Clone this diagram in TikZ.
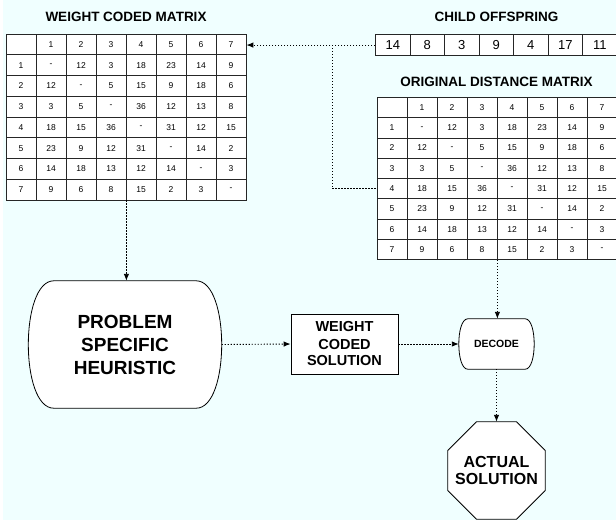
\documentclass[tikz,border=0pt]{standalone}
\usepackage{fontspec}
\setmainfont{Liberation Sans}
\usetikzlibrary{matrix,arrows.meta,shapes.geometric}
\definecolor{bgcyan}{RGB}{240,255,255}
\newcommand{\myfs}[2]{\fontsize{#1}{#2}\selectfont}
\pgfdeclarelayer{back}
\pgfdeclarelayer{shapes}
\pgfsetlayers{back,shapes,main}
\begin{document}
\begin{tikzpicture}[x=1pt,y=-1pt,
  grid/.style={matrix of nodes, nodes in empty cells, column sep=-0.7pt, row sep=-0.7pt,
    inner sep=0pt, nodes={draw=black!85, fill=white, line width=0.7pt, anchor=center, inner sep=0pt}},
  dmat/.style={grid, nodes={minimum width=30pt, minimum height=20.75pt, font=\myfs{8.5}{10}}},
  crow/.style={grid, nodes={minimum width=34.5pt, minimum height=21pt, font=\myfs{13}{15}}},
  title/.style={font=\bfseries\myfs{13.5}{16}, inner sep=0pt},
  conn/.style={line width=0.9pt, dash pattern=on 1.1pt off 1.9pt, black},
  arr/.style={conn, -{Latex[length=7pt,width=5.5pt]}},
  outl/.style={draw=black, fill=white, line width=0.8pt}
]
\useasboundingbox (0,0) rectangle (616,523);
\begin{pgfonlayer}{back}
  \fill[bgcyan] (3,0) rectangle (616,520);
\end{pgfonlayer}

% titles
\node[title] (t1) at (126,16.7) {WEIGHT CODED MATRIX};
\node[title] (t2) at (496.5,16.7) {CHILD OFFSPRING};
\node[title] (t3) at (496.5,82) {ORIGINAL DISTANCE MATRIX};

% weight coded matrix
\matrix (wcm) [dmat, anchor=north west] at (5.5,33.5) {
   & 1 & 2 & 3 & 4 & 5 & 6 & 7 \\
 1 & - & 12 & 3 & 18 & 23 & 14 & 9 \\
 2 & 12 & - & 5 & 15 & 9 & 18 & 6 \\
 3 & 3 & 5 & - & 36 & 12 & 13 & 8 \\
 4 & 18 & 15 & 36 & - & 31 & 12 & 15 \\
 5 & 23 & 9 & 12 & 31 & - & 14 & 2 \\
 6 & 14 & 18 & 13 & 12 & 14 & - & 3 \\
 7 & 9 & 6 & 8 & 15 & 2 & 3 & - \\
};

% original distance matrix
\matrix (odm) [dmat, nodes={minimum height=20.3pt}, anchor=north west] at (376.5,96.7) {
   & 1 & 2 & 3 & 4 & 5 & 6 & 7 \\
 1 & - & 12 & 3 & 18 & 23 & 14 & 9 \\
 2 & 12 & - & 5 & 15 & 9 & 18 & 6 \\
 3 & 3 & 5 & - & 36 & 12 & 13 & 8 \\
 4 & 18 & 15 & 36 & - & 31 & 12 & 15 \\
 5 & 23 & 9 & 12 & 31 & - & 14 & 2 \\
 6 & 14 & 18 & 13 & 12 & 14 & - & 3 \\
 7 & 9 & 6 & 8 & 15 & 2 & 3 & - \\
};

% child offspring
\matrix (co) [crow, anchor=north west] at (375,34) {
 14 & 8 & 3 & 9 & 4 & 17 & 11 \\
};

% heuristic
\node[font=\bfseries\myfs{19}{23}, align=center, minimum width=193pt, minimum height=127pt, inner sep=0pt]
  (heur) at (125,344.5) {PROBLEM\\SPECIFIC\\HEURISTIC};
% weight coded solution
\node[outl, minimum width=107pt, minimum height=60pt, inner sep=0pt, align=center,
  font=\bfseries\myfs{14.5}{17}] (wcs) at (344.5,344) {WEIGHT\\CODED\\SOLUTION};
% decode
\node[font=\bfseries\myfs{10.5}{12}, minimum width=75pt, minimum height=50pt, inner sep=0pt]
  (dec) at (496.5,344) {DECODE};
% actual solution (octagon drawn on the shapes layer)
\node[minimum width=97pt, minimum height=97pt, inner sep=0pt, align=center,
  font=\bfseries\myfs{16}{17.5}] (act) at (496.5,470.5) {ACTUAL\\SOLUTION};

\begin{pgfonlayer}{shapes}
  \draw[outl] ([xshift=25.5pt]heur.north west) -- ([xshift=-25.5pt]heur.north east)
    .. controls +(34pt,0pt) and +(34pt,0pt) .. ([xshift=-25.5pt]heur.south east)
    -- ([xshift=25.5pt]heur.south west)
    .. controls +(-34pt,0pt) and +(-34pt,0pt) .. cycle;
  \draw[outl] ([xshift=9pt]dec.north west) -- ([xshift=-9pt]dec.north east)
    .. controls +(12pt,0pt) and +(12pt,0pt) .. ([xshift=-9pt]dec.south east)
    -- ([xshift=9pt]dec.south west)
    .. controls +(-12pt,0pt) and +(-12pt,0pt) .. cycle;
  \draw[outl,line join=miter] ([xshift=-20.1pt]act.north) -- ([xshift=20.1pt]act.north)
    -- ([yshift=20.1pt]act.east) -- ([yshift=-20.1pt]act.east)
    -- ([xshift=20.1pt]act.south) -- ([xshift=-20.1pt]act.south)
    -- ([yshift=-20.1pt]act.west) -- ([yshift=20.1pt]act.west) -- cycle;
\end{pgfonlayer}

% connectors
\draw[arr] (co-1-1.west) -- (co-1-1.west -| wcm-1-8.east);
\coordinate (br) at (co-1-1.west -| 332,0);
\draw[conn] (br) |- (odm-5-1.west);
\draw[arr] (wcm-8-4.south east) -- (wcm-8-4.south east |- heur.north);
\draw[arr] (heur.east) -- (wcs.west);
\draw[arr] (wcs.east) -- (dec.west);
\draw[arr] (odm-8-4.south east) -- (odm-8-4.south east |- dec.north);
\draw[arr] (dec.south) -- (act.north);
\end{tikzpicture}
\end{document}
